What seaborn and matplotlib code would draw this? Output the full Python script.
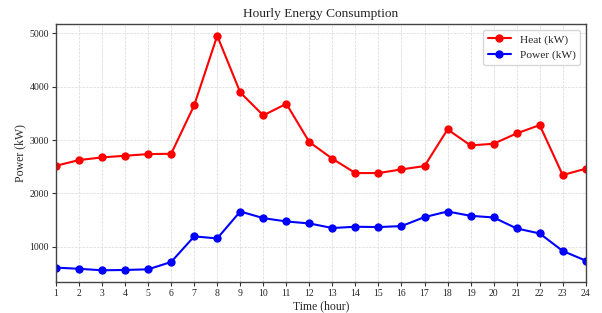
import numpy as np
import pandas as pd
import matplotlib
matplotlib.use("Agg")
import matplotlib.pyplot as plt
import seaborn as sns

hours = list(range(1, 25))
heat = [2518, 2625, 2675, 2706, 2737, 2743, 3651, 4956, 3894, 3463, 3681, 2962,
        2650, 2381, 2381, 2450, 2512, 3200, 2900, 2931, 3125, 3281, 2344, 2463]
power = [607, 585, 557, 563, 575, 713, 1193, 1155, 1660, 1536, 1473, 1436,
         1350, 1374, 1368, 1386, 1555, 1660, 1579, 1548, 1342, 1248, 920, 738]

sns.set_theme(style="whitegrid")
plt.rcParams['font.family'] = ['Liberation Serif', 'DejaVu Serif']

fig, ax = plt.subplots(figsize=(6.02, 3.13), dpi=100)
df = pd.DataFrame({"hour": hours + hours,
                   "value": heat + power,
                   "series": ["Heat (kW)"] * 24 + ["Power (kW)"] * 24})
sns.lineplot(data=df, x="hour", y="value", hue="series",
             palette={"Heat (kW)": "red", "Power (kW)": "blue"},
             marker="o", markersize=6, markeredgewidth=0, linewidth=1.5, ax=ax)

ax.set_xlim(1, 24)
ax.set_xticks(hours)
ax.set_yticks([1000, 2000, 3000, 4000, 5000])
ax.tick_params(axis='both', labelsize=7, length=3, width=0.8, color='#333333',
               direction='out', bottom=True, left=True, pad=2)
ax.grid(True, linestyle='--', linewidth=0.5, color='#d8d8d8')
for s in ax.spines.values():
    s.set_color('#444444')
    s.set_linewidth(1.0)
ax.set_title("Hourly Energy Consumption", fontsize=9.6, pad=5)
ax.set_xlabel("Time (hour)", fontsize=8.5, labelpad=2)
ax.set_ylabel("Power (kW)", fontsize=8.5, labelpad=2)
leg = ax.legend(loc="upper right", fontsize=8.2, frameon=True, title=None)
leg.get_frame().set_edgecolor('#cccccc')

fig.subplots_adjust(left=0.093, right=0.973, top=0.923, bottom=0.099)
fig.savefig("out.png", dpi=100)
